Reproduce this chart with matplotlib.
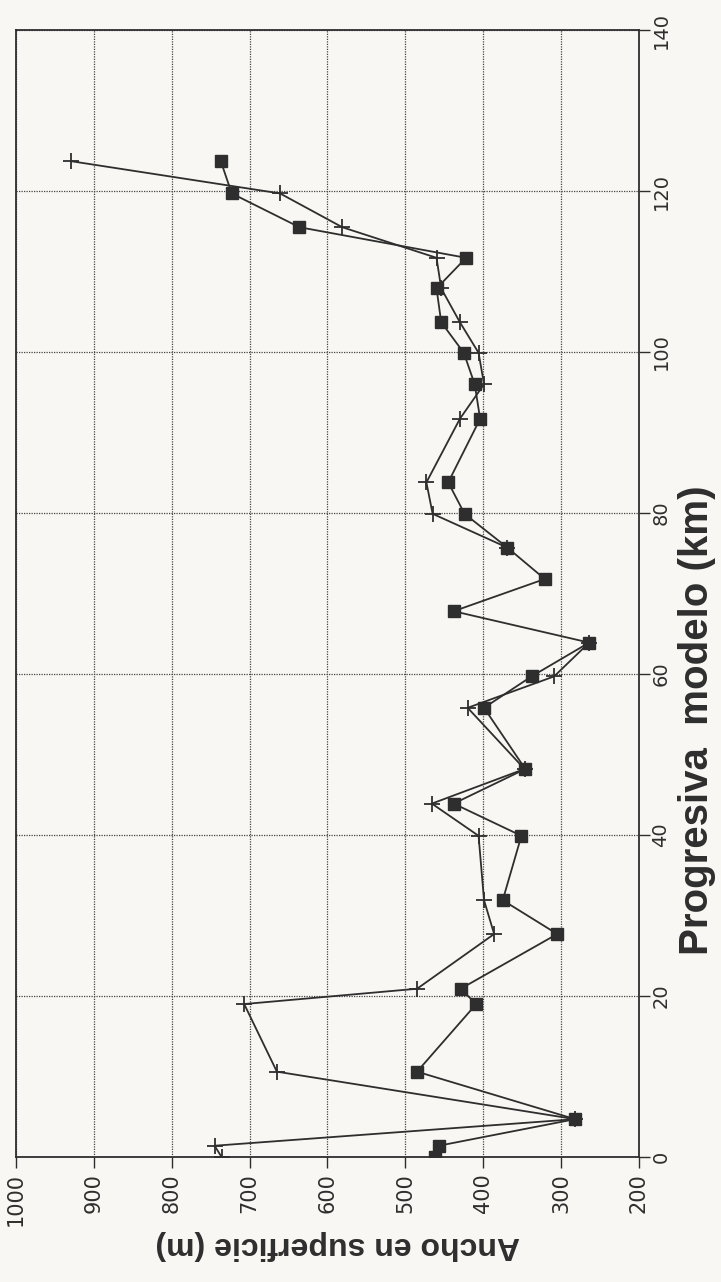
import numpy as np
import matplotlib
matplotlib.use("Agg")
import matplotlib.pyplot as plt

# progresiva (km) and surface width (m)
km_sq = [0, 1.4, 4.7, 10.6, 19, 20.9, 27.7, 31.9, 39.9, 43.9, 48.2, 55.8, 59.7, 63.9,
         67.8, 71.8, 75.7, 79.9, 83.8, 91.7, 96, 99.9, 103.7, 107.9, 111.7, 115.5, 119.7, 123.7]
ancho_sq = [462, 457, 282, 485, 409, 429, 305, 375, 351, 438, 346, 399, 338, 264,
            438, 321, 369, 424, 445, 404, 411, 425, 454, 460, 422, 636, 723, 737]

# second series (+), gap between 64 and 76 km
km_pl = [0, 1.4, 4.7, 10.6, 19, 20.9, 27.7, 31.9, 39.9, 43.9, 48.2, 55.8, 59.7, 63.9,
         np.nan, 75.7, 79.9, 83.8, 91.7, 96, 99.9, 103.7, 107.9, 111.7, 115.5, 119.7, 123.7]
ancho_pl = [736, 745, 282, 665, 707, 485, 386, 399, 406, 466, 347, 420, 309, 264,
            np.nan, 369, 465, 473, 430, 399, 406, 430, 454, 460, 581, 661, 929]

km_ticks = [0, 20, 40, 60, 80, 100, 120, 140]
ancho_ticks = [1000, 900, 800, 700, 600, 500, 400, 300, 200]

bg = "#f8f7f3"
ink = "#2e2e2e"

fig = plt.figure(figsize=(7.21, 12.82), dpi=100, facecolor=bg)
ax = fig.add_axes([16 / 721, 125 / 1282, 623 / 721, 1127 / 1282], facecolor=bg)

ax.plot(ancho_pl, km_pl, color=ink, lw=1.3, marker="+", ms=12, mew=1.3, zorder=3)
ax.plot(ancho_sq, km_sq, color=ink, lw=1.3, marker="s", ms=9, mfc=ink, mec=ink, zorder=4)

ax.set_xlim(1000, 200)
ax.set_ylim(0, 140)
ax.set_xticks(ancho_ticks)
ax.set_yticks(km_ticks)
ax.yaxis.tick_right()
ax.grid(True, color="#444444", linestyle=(0, (1, 1)), lw=0.9)
ax.set_axisbelow(True)

for s in ax.spines.values():
    s.set_color(ink)
    s.set_linewidth(1.3)

ax.tick_params(axis="both", direction="out", length=8, width=1.0, color=ink,
               labelsize=15, labelcolor=ink)
ax.tick_params(axis="y", pad=1, labelsize=14)
for lab in ax.get_yticklabels():
    lab.set_rotation(90)
    lab.set_va("center")
    lab.set_ha("left")
for lab in ax.get_xticklabels():
    lab.set_rotation(90)
    lab.set_ha("center")
    lab.set_va("top")

fig.text(697 / 721, 1 - 720 / 1282, "Progresiva  modelo (km)", rotation=90,
         ha="center", va="center", fontsize=29, fontweight="bold", color=ink,
         family=["Liberation Sans", "DejaVu Sans"])
fig.text(338 / 721, 1 - 1245 / 1282, "Ancho en superficie (m)", rotation=180,
         ha="center", va="center", fontsize=23, fontweight="bold", color=ink,
         family=["Liberation Sans", "DejaVu Sans"])

fig.savefig("out.png", dpi=100, facecolor=bg)
